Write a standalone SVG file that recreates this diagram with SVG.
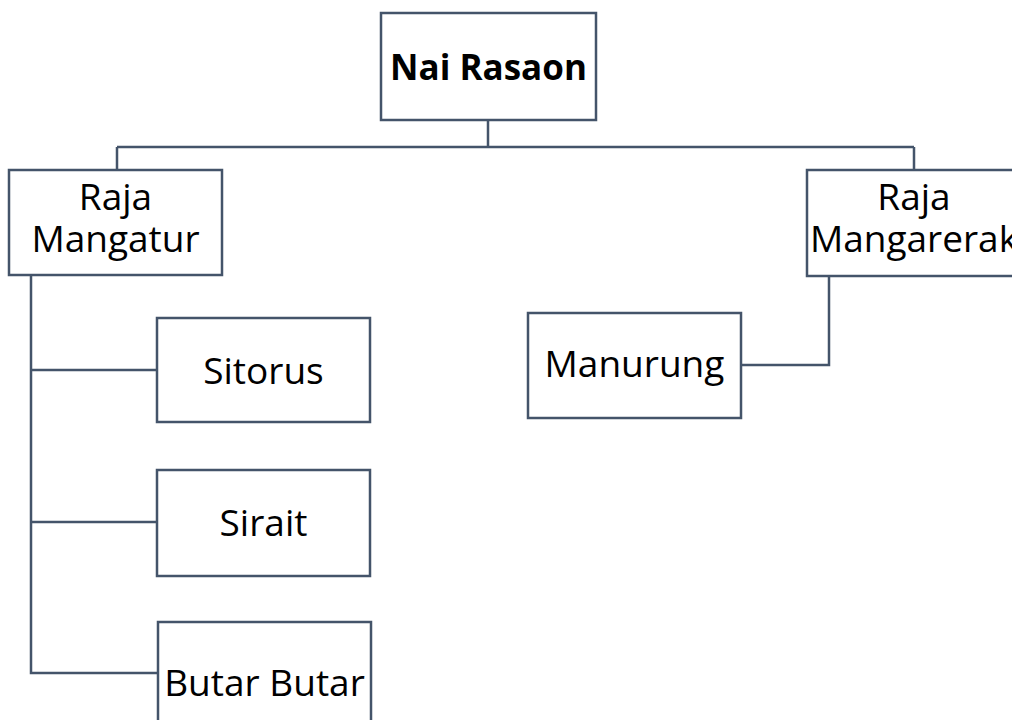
<svg xmlns="http://www.w3.org/2000/svg" width="1012" height="720" viewBox="0 0 1012 720">
<style>
.box{fill:#fff;stroke:#44546A;stroke-width:2.5}
.con{fill:none;stroke:#44546A;stroke-width:2.5}
.t{font-family:"Open Sans","Liberation Sans",sans-serif;font-size:37px;fill:#000;text-anchor:middle}
.b{font-weight:bold;font-size:35px}
</style>
<rect width="1012" height="720" fill="#fff"/>
<g id="connectors">
<path class="con" d="M488,120 V147 M117,147 H914 M117,147 V170 M914,147 V170"/>
<path class="con" d="M31,275 V673 H158 M31,370 H157 M31,522 H157"/>
<path class="con" d="M829,276 V365 H741"/>
</g>
<g id="nai-rasaon"><rect class="box" x="381" y="13" width="215" height="107"/><text class="t b" x="488.5" y="80">Nai Rasaon</text></g>
<g id="raja-mangatur"><rect class="box" x="9" y="170" width="213" height="105"/><text class="t" x="115.5" y="210">Raja</text><text class="t" x="115.5" y="252">Mangatur</text></g>
<g id="raja-mangarerak"><rect class="box" x="807" y="170" width="214" height="106"/><text class="t" x="914" y="210">Raja</text><text class="t" x="914" y="252">Mangarerak</text></g>
<g id="sitorus"><rect class="box" x="157" y="318" width="213" height="104"/><text class="t" x="263.5" y="384">Sitorus</text></g>
<g id="sirait"><rect class="box" x="157" y="470" width="213" height="106"/><text class="t" x="263.5" y="536">Sirait</text></g>
<g id="manurung"><rect class="box" x="528" y="313" width="213" height="105"/><text class="t" x="634.5" y="377">Manurung</text></g>
<g id="butar-butar"><rect class="box" x="158" y="622" width="213" height="110"/><text class="t" x="264.5" y="696">Butar Butar</text></g>
</svg>
